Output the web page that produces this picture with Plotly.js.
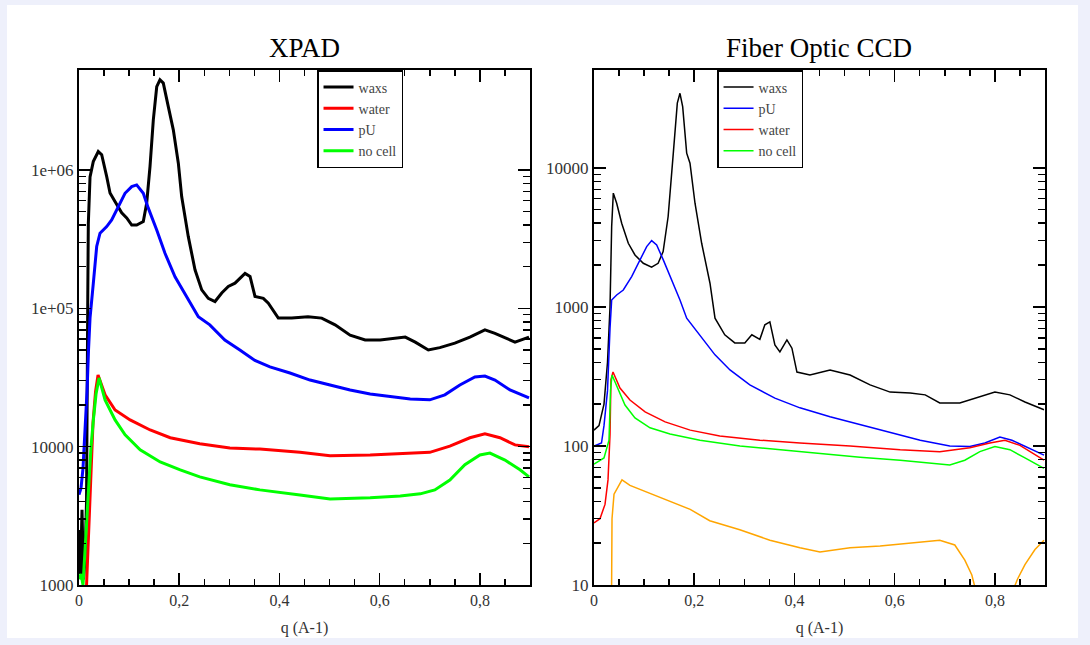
<!DOCTYPE html>
<html><head><meta charset="utf-8">
<script src="https://cdn.plot.ly/plotly-3.0.1.min.js"></script>
<style>
html,body{margin:0;padding:0;background:#eef0fb;}
#wrap{position:absolute;left:0;top:0;width:1090px;height:645px;background:#eef0fb;}
#chart{position:absolute;left:7px;top:5px;width:1071px;height:633px;background:#fff;}
</style></head><body><div id="wrap"><div id="chart"></div></div>
<script>
// ---------- Data: XPAD (left) ----------
const qWaxsL = [0,0.003,0.006,0.009,0.012,0.015,0.0175,0.0186,0.022,0.0285,0.0385,0.0453,0.0553,0.0619,0.0718,0.0852,0.0952,0.1052,0.1151,0.1283,0.1351,0.1417,0.1483,0.1551,0.1616,0.1682,0.1782,0.1882,0.1982,0.2049,0.2181,0.2315,0.2449,0.258,0.2714,0.2848,0.2979,0.3113,0.3313,0.3413,0.3512,0.3678,0.3778,0.3977,0.4245,0.457,0.4843,0.511,0.541,0.571,0.601,0.631,0.651,0.671,0.697,0.72,0.75,0.78,0.81,0.83,0.85,0.87,0.898];
const waxsL = [2500,1200,3500,1100,1500,4000,120000,410000,890000,1150000,1360000,1290000,895000,682000,591000,490000,450000,400000,400000,424000,578000,1060000,2300000,4000000,4490000,4250000,2870000,1950000,1120000,643000,330000,190000,136000,118000,112000,129000,144000,152000,179000,170000,122000,118000,109000,85000,85000,87000,85000,76000,64000,59000,59000,61000,62000,57000,50000,52000,56000,62000,69800,66000,61000,57000,62000];

const qPUL = [0,0.004,0.008,0.012,0.016,0.019,0.022,0.0286,0.0353,0.0419,0.0553,0.0652,0.0785,0.0918,0.1052,0.1151,0.1283,0.1383,0.1551,0.1716,0.1916,0.2149,0.2381,0.261,0.291,0.321,0.351,0.381,0.421,0.461,0.501,0.541,0.581,0.621,0.661,0.7,0.73,0.76,0.79,0.81,0.83,0.86,0.898];
const pUL = [4500,5000,7000,12000,25000,50000,85000,152000,280000,349000,390000,436000,540000,679000,759000,780000,679000,530000,369000,250000,169000,122000,87000,76000,59000,50000,42000,37700,34100,30300,27900,25700,24000,22900,22100,21800,23700,27900,31900,32400,30300,25700,22500];

const qWaterL = [0.01,0.014,0.017,0.02,0.024,0.028,0.033,0.038,0.052,0.072,0.102,0.142,0.182,0.241,0.301,0.361,0.441,0.501,0.581,0.641,0.7,0.74,0.78,0.81,0.84,0.87,0.898];
const waterL = [500,800,1500,3000,7000,15000,25000,33000,23700,18400,15600,13200,11600,10500,9800,9600,9100,8600,8700,8900,9100,10100,11600,12400,11600,10300,10000];

const qNoCellL = [0,0.004,0.008,0.012,0.016,0.02,0.024,0.029,0.034,0.04,0.052,0.072,0.092,0.122,0.162,0.202,0.241,0.301,0.361,0.441,0.501,0.581,0.641,0.681,0.71,0.74,0.77,0.8,0.82,0.85,0.88,0.898];
const noCellL = [1100,1200,1000,1800,3000,5500,10000,16000,24000,31400,21800,15600,12200,9500,7750,6800,6050,5300,4870,4480,4190,4270,4400,4560,4870,5740,7400,8700,8980,8000,6800,6050];

// ---------- Data: Fiber Optic CCD (right) ----------
const qWaxsR = [0,0.01,0.02,0.027,0.032,0.0353,0.0386,0.0453,0.0553,0.0685,0.0818,0.0984,0.115,0.128,0.138,0.148,0.1583,0.1663,0.1716,0.177,0.185,0.1916,0.2016,0.2149,0.2315,0.2415,0.261,0.281,0.301,0.315,0.331,0.341,0.351,0.361,0.371,0.385,0.395,0.405,0.431,0.471,0.511,0.551,0.591,0.631,0.661,0.69,0.73,0.76,0.8,0.83,0.86,0.898];
const waxsR = [130,140,200,400,1000,3785,6580,5570,4000,2870,2365,2060,1930,2060,2500,4470,12770,29200,34400,27600,12770,10800,5570,2870,1480,830,630,551,551,630,585,743,780,533,475,579,505,340,324,352,324,275,244,240,233,204,204,221,244,233,207,182];

const qPUR = [0,0.015,0.02,0.027,0.032,0.0353,0.0453,0.0585,0.0752,0.0918,0.1052,0.1151,0.1251,0.1383,0.155,0.1716,0.185,0.2115,0.2415,0.2714,0.311,0.361,0.411,0.471,0.531,0.591,0.651,0.71,0.75,0.78,0.81,0.834,0.86,0.898];
const pUR = [100,105,140,250,700,1122,1219,1324,1652,2180,2718,3000,2790,2180,1563,1122,830,630,452,352,275,221,188,162,142,126,110,100,99,105,116,110,99,86];

const qWaterR = [0,0.012,0.022,0.028,0.032,0.0339,0.038,0.0519,0.0718,0.102,0.142,0.192,0.251,0.331,0.411,0.511,0.611,0.69,0.75,0.79,0.82,0.85,0.898];
const waterR = [28,30,38,57,120,300,340,261,214,176,149,130,118,110,105,100,94,91,97,105,110,101,79];

const qNoCellR = [0,0.02,0.03,0.033,0.036,0.04,0.0479,0.0619,0.0818,0.1118,0.1517,0.2115,0.2914,0.371,0.451,0.531,0.611,0.671,0.71,0.74,0.77,0.8,0.83,0.86,0.898];
const noCellR = [74,82,110,250,324,300,253,197,159,135,122,110,100,94,89,83,79,75,73,79,91,99,94,82,69];

const qOrangeR = [0.034,0.036,0.04,0.044,0.0559,0.0718,0.102,0.142,0.192,0.231,0.291,0.351,0.411,0.451,0.511,0.571,0.631,0.69,0.72,0.74,0.754,0.762,0.77,0.8,0.83,0.845,0.86,0.88,0.898];
const orangeR = [2,30,45,48,57,52,47,41,35,29,25,21,18.5,17.3,18.5,19.1,20,21,19.4,15.1,11.8,9.2,7,6,8,11,14,18,21];

// ---------- Ticks ----------
const xTickVals = [0,0.2,0.4,0.6,0.8];
const xTickText = ['0','0,2','0,4','0,6','0,8'];
const yTickValsL = [1000,10000,100000,1000000];
const yTickTextL = ['1000','10000','1e+05','1e+06'];
const yTickValsR = [10,100,1000,10000];
const yTickTextR = ['10','100','1000','10000'];

function minorLog(lo, hi){
  const out=[];
  for(let d=lo; d<hi; d*=10){ for(let k=2;k<=9;k++) out.push(d*k); }
  return out;
}

const FONT = 'Liberation Serif, Times New Roman, serif';

function xAxis(domain, anchor){
  return {
    domain: domain, anchor: anchor, range: [0, 0.9],
    tickmode: 'array', tickvals: xTickVals, ticktext: xTickText,
    ticks: 'inside', ticklen: 12, tickwidth: 1.5, tickcolor: '#000',
    minor: {ticks: 'inside', dtick: 0.05, tick0: 0, ticklen: 6, tickwidth: 1.5, tickcolor: '#000'},
    showline: true, linecolor: '#000', linewidth: 2, mirror: 'allticks',
    showgrid: false, zeroline: false,
    tickfont: {family: FONT, size: 16, color: '#333'},
    title: {text: 'q (A-1)', font: {family: FONT, size: 16, color: '#333'}, standoff: 14}
  };
}
function yAxis(range, tv, tt, minorVals, anchor){
  return {
    type: 'log', range: range, anchor: anchor, domain: [0,1],
    tickmode: 'array', tickvals: tv, ticktext: tt,
    ticks: 'inside', ticklen: 12, tickwidth: 1.5, tickcolor: '#000',
    minor: {ticks: 'inside', tickmode: 'array', tickvals: minorVals, ticklen: 7, tickwidth: 1.5, tickcolor: '#000'},
    showline: true, linecolor: '#000', linewidth: 2, mirror: 'allticks',
    showgrid: false, zeroline: false,
    tickfont: {family: FONT, size: 17, color: '#333'}
  };
}

const WL = 3, WR = 1.5;
const traces = [
  {x: qWaxsL, y: waxsL, name: 'waxs', line: {color: '#000000', width: WL}, xaxis: 'x', yaxis: 'y', legend: 'legend'},
  {x: qWaterL, y: waterL, name: 'water', line: {color: '#ff0000', width: WL}, xaxis: 'x', yaxis: 'y', legend: 'legend'},
  {x: qPUL, y: pUL, name: 'pU', line: {color: '#0000ff', width: WL}, xaxis: 'x', yaxis: 'y', legend: 'legend'},
  {x: qNoCellL, y: noCellL, name: 'no cell', line: {color: '#00ff00', width: WL}, xaxis: 'x', yaxis: 'y', legend: 'legend'},
  {x: qWaxsR, y: waxsR, name: 'waxs', line: {color: '#000000', width: WR}, xaxis: 'x2', yaxis: 'y2', legend: 'legend2'},
  {x: qPUR, y: pUR, name: 'pU', line: {color: '#0000ff', width: WR}, xaxis: 'x2', yaxis: 'y2', legend: 'legend2'},
  {x: qWaterR, y: waterR, name: 'water', line: {color: '#ff0000', width: WR}, xaxis: 'x2', yaxis: 'y2', legend: 'legend2'},
  {x: qNoCellR, y: noCellR, name: 'no cell', line: {color: '#00ff00', width: WR}, xaxis: 'x2', yaxis: 'y2', legend: 'legend2'},
  {x: qOrangeR, y: orangeR, name: 'other', showlegend: false, line: {color: '#ffa500', width: WR}, xaxis: 'x2', yaxis: 'y2'}
].map(t => Object.assign({type: 'scatter', mode: 'lines', hoverinfo: 'skip'}, t));

const legendStyle = {
  bgcolor: '#ffffff', bordercolor: '#000', borderwidth: 1.5,
  font: {family: FONT, size: 14, color: '#444'},
  xanchor: 'left', yanchor: 'top', y: 1, tracegroupgap: 0, itemwidth: 30
};

const layout = {
  width: 1071, height: 633,
  margin: {l: 72, r: 33, t: 65, b: 53},
  paper_bgcolor: '#ffffff', plot_bgcolor: '#ffffff',
  showlegend: true,
  xaxis: xAxis([0, 0.4669], 'y'),
  yaxis: yAxis([3, 6.723], yTickValsL, yTickTextL, minorLog(1000, 1e6), 'x'),
  xaxis2: xAxis([0.5331, 1], 'y2'),
  yaxis2: yAxis([1, 4.704], yTickValsR, yTickTextR, minorLog(10, 1e4), 'x2'),
  legend: Object.assign({x: 0.2464}, legendStyle),
  legend2: Object.assign({x: 0.6605}, legendStyle),
  annotations: [
    {text: 'XPAD', xref: 'paper', yref: 'paper', x: 0.2334, y: 1.0427, xanchor: 'center', yanchor: 'middle', showarrow: false, font: {family: FONT, size: 27, color: '#000'}},
    {text: 'Fiber Optic CCD', xref: 'paper', yref: 'paper', x: 0.7665, y: 1.0427, xanchor: 'center', yanchor: 'middle', showarrow: false, font: {family: FONT, size: 27, color: '#000'}}
  ]
};

Plotly.newPlot('chart', traces, layout, {displayModeBar: false, staticPlot: true});
</script>
</body></html>
